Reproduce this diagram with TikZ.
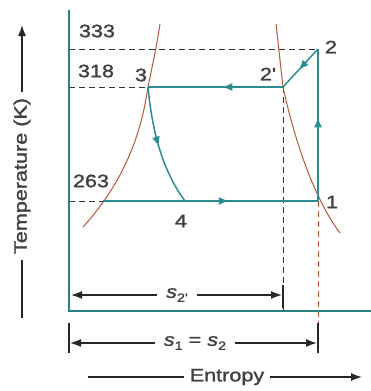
\documentclass[tikz,border=0pt]{standalone}
\usepackage{fontspec}
\setmainfont{Liberation Sans}
\newfontfamily\lblfont[FakeStretch=1.2,FakeBold=1.5]{Liberation Sans}
\usetikzlibrary{arrows.meta,decorations.markings}
\definecolor{tealc}{HTML}{2C8C94}
\definecolor{axc}{HTML}{2A7F80}
\definecolor{redc}{HTML}{B8583A}
\definecolor{dashc}{HTML}{333333}
\newcommand{\svar}[1]{\textit{s}\raisebox{-4pt}{\fontsize{12}{12}\selectfont #1}}
\tikzset{
  ax/.style={axc,line width=2.2pt},
  cyc/.style={tealc,line width=1.5pt},
  sat/.style={redc,line width=1pt},
  dsh/.style={dashc,line width=1pt,dash pattern=on 6pt off 4pt},
  rdsh/.style={redc,line width=1pt,dash pattern=on 6pt off 4pt},
  midarr/.style={postaction={decorate},decoration={markings,mark=at position #1 with {\arrow{Latex[length=10pt,width=8pt]}}}},
  lbl/.style={font=\lblfont\fontsize{18}{18}\selectfont,text=black!75,inner sep=1pt},
  dim/.style={black!85,line width=1.6pt},
  tip/.style={-{Latex[length=11pt,width=8pt]}},
}
\begin{document}
\begin{tikzpicture}[x=1pt,y=-1pt]
\useasboundingbox (0,0) rectangle (371,391);
% coordinates
\coordinate (p2) at (318,49);
\coordinate (p2p) at (283,87);
\coordinate (p3) at (148,87);
\coordinate (p4) at (185,201);
\coordinate (p1) at (318,201);
\coordinate (o) at (69,311);
\coordinate (ytop) at (69,10);
\coordinate (xend) at (371,311);
% dashed lines
\draw[dsh] (69,49) -- (p2);
\draw[dsh] (69,87) -- (p3);
\draw[dsh] (69,201) -- (103,201);
\draw[dsh] (p2p) -- (283,311);
\draw[rdsh] (p1) -- (318,353);
% saturation curves
\draw[sat] (160,24) .. controls (156,50) and (151,72) .. (p3) .. controls (144,112) and (135,170) .. (83,227);
\draw[sat] (276,24) .. controls (279,50) and (281,70) .. (p2p) .. controls (290,120) and (309,192) .. (340,233);
% cycle
\draw[cyc] (103,201) -- (p4);
\draw[cyc,midarr=0.33] (p4) -- (p1);
\draw[cyc,midarr=0.55] (p1) -- (p2);
\draw[cyc,midarr=0.55] (p2) -- (p2p);
\draw[cyc,midarr=0.45] (p2p) -- (p3);
\draw[cyc,midarr=0.5] (p3) .. controls (152,130) and (162,170) .. (p4);
% axes
\draw[ax] (ytop) -- (o) -- (xend);
% labels
\node[lbl] (l333) at (97,31) {333};
\node[lbl] (l318) at (96,71) {318};
\node[lbl] (l3) at (141,75) {3};
\node[lbl] (l2p) at (268,74) {2'};
\node[lbl] (l2) at (331,47) {2};
\node[lbl] (l263) at (91,181) {263};
\node[lbl] (l1) at (332,202) {1};
\node[lbl] (l4) at (181,221) {4};
% s2' dimension
\node[lbl] (s2p) at (177,295) {\svar{2'}};
\draw[dim,tip] (s2p.west) ++(-8,0) -- (71,295);
\draw[dim,tip] (s2p.east) ++(8,0) -- (282,295);
\draw[dim] (283,285) -- (283,308);
% s1=s2 dimension
\draw[dim] (69,323) -- (69,353);
\draw[dim] (318,323) -- (318,353);
\node[lbl] (s12) at (195,343) {\svar{1} = \svar{2}};
\draw[dim,tip] (s12.west) ++(-8,0) -- (70,343);
\draw[dim,tip] (s12.east) ++(8,0) -- (317,343);
% Entropy
\node[lbl] (ent) at (227,377) {Entropy};
\draw[dim,line width=1.4pt] (ent.west) ++(-5,0) -- (88,377);
\draw[dim,line width=1.4pt,tip] (ent.east) ++(5,0) -- (362,377);
% Temperature
\node[lbl,rotate=90] (tmp) at (22,176) {Temperature (K)};
\draw[dim,line width=1.4pt] (tmp.west) ++(0,5) -- (22,318);
\draw[dim,line width=1.4pt,tip] (tmp.east) ++(0,-5) -- (22,25);
\end{tikzpicture}
\end{document}
